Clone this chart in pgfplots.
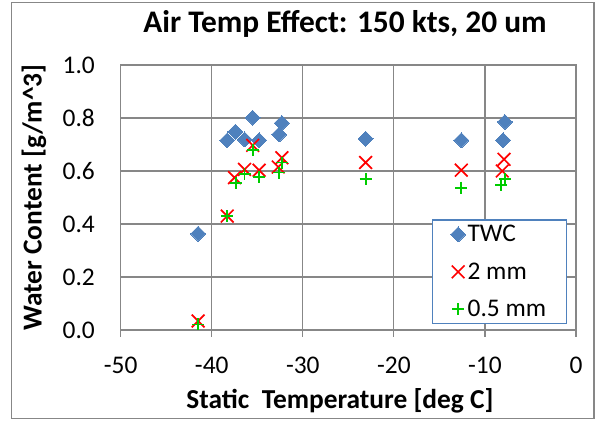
\documentclass[border=0pt]{standalone}
\usepackage{pgfplots}
\pgfplotsset{compat=1.18}
\usepackage{fontspec}
\setmainfont{Carlito}
\definecolor{twcblue}{HTML}{4F81BD}
\definecolor{gridgray}{HTML}{878787}
\definecolor{mkgreen}{HTML}{00CC00}

\begin{document}
\begin{tikzpicture}[x=1bp,y=1bp]
% picture frame, in image pixels shifted to the plot origin
\useasboundingbox (-120.7,-91) rectangle (474.3,330);
\draw[gridgray, line width=1.2bp] (-109.4,-88.6) rectangle (473.3,327.6);
\begin{axis}[
    at={(0,0)}, anchor=south west,
    scale only axis, width=455.3bp, height=265bp,
    xmin=-50, xmax=0, ymin=0, ymax=1,
    xtick={-50,-40,-30,-20,-10,0},
    xticklabels={-50,-40,-30,-20,-10,0},
    ytick={0,0.2,0.4,0.6,0.8,1},
    yticklabels={0.0,0.2,0.4,0.6,0.8,1.0},
    tick label style={font=\fontsize{25.5}{28}\selectfont},
    xticklabel style={anchor=base, inner sep=0pt, yshift=-36.5bp},
    yticklabel style={anchor=east, inner sep=0pt, xshift=-25.7bp},
    xtick pos=bottom, ytick pos=left,
    xtick align=outside, major tick length=6.5bp,
    ytick style={draw=none},
    xtick style={gridgray, line width=1.2bp},
    grid=major,
    grid style={gridgray, line width=1.2bp},
    axis line style={gridgray, line width=1.2bp},
    title={Air Temp Effect: 150 kts, 20 um},
    title style={font=\bfseries\fontsize{31.5}{34}\selectfont, at={(rel axis cs:0.4926,1)}, anchor=base, yshift=27bp, inner sep=0pt},
    xlabel={Static\ \ Temperature [deg C]},
    xlabel style={font=\bfseries\fontsize{27.5}{30}\selectfont, at={(rel axis cs:0.4817,0)}, anchor=base, yshift=-78bp, inner sep=0pt},
    ylabel={Water Content [g/m\textasciicircum 3]},
    ylabel style={font=\bfseries\fontsize{27.5}{30}\selectfont, at={(rel axis cs:0,0.5)}, anchor=center, yshift=86.7bp, inner sep=0pt},
    legend style={at={(rel axis cs:0.9796,0.4177)}, anchor=north east,
        draw=twcblue, line width=1.2bp, font=\fontsize{25.5}{28}\selectfont,
        inner xsep=18bp, inner ysep=3.5bp, row sep=15.5bp,
        /tikz/every even column/.append style={column sep=11bp}},
    legend cell align=left,
    clip=false,
]
\addplot[twcblue, only marks, mark=square*, mark size=5.3bp, mark options={rotate=45, fill=twcblue, draw=twcblue, line width=0bp}]
coordinates {
(-41.5,0.363) (-38.3,0.716) (-37.4,0.748) (-36.4,0.719) (-35.5,0.801) (-34.8,0.716)
(-32.3,0.781) (-32.6,0.738) (-23.1,0.722) (-12.6,0.716) (-8.0,0.716) (-7.8,0.785)
};
\addlegendentry{TWC}
\addplot[red, only marks, mark=x, mark size=9bp, mark options={red, line width=1.7bp}]
coordinates {
(-41.5,0.034) (-38.3,0.430) (-37.5,0.575) (-36.4,0.606) (-35.5,0.697) (-34.8,0.603)
(-32.7,0.615) (-32.3,0.650) (-23.1,0.632) (-12.6,0.603) (-7.9,0.644) (-8.1,0.600)
};
\addlegendentry{2 mm}
\addplot[mkgreen, only marks, mark=+, mark size=6bp, mark options={mkgreen, line width=1.8bp}]
coordinates {
(-41.5,0.021) (-38.3,0.430) (-37.3,0.556) (-36.4,0.588) (-35.5,0.678) (-34.8,0.577)
(-32.6,0.594) (-32.3,0.632) (-23.1,0.569) (-12.6,0.537) (-8.2,0.547) (-7.8,0.569)
};
\addlegendentry{0.5 mm}
\end{axis}
\end{tikzpicture}
\end{document}
